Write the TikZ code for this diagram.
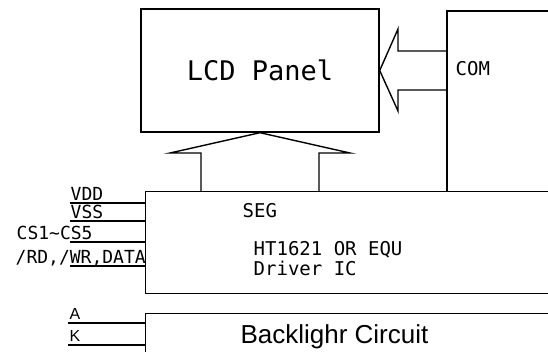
\documentclass[tikz,border=0pt]{standalone}
\usepackage{fontspec}
\usepackage{tikz}
\usetikzlibrary{positioning,calc}
\newfontfamily\cadfont{DejaVu Sans Mono}
\newfontfamily\arialfont{Liberation Sans}

\begin{document}
\begin{tikzpicture}[x=1pt, y=-1pt, line width=1.4pt,
    block/.style={draw, inner sep=0pt},
    pin/.style={font=\cadfont\fontsize{18}{18}\selectfont, inner sep=0pt, anchor=base west},
    chip/.style={font=\cadfont\fontsize{19}{19}\selectfont, inner sep=0pt, anchor=base west},
    bl/.style={font=\arialfont\fontsize{16}{16}\selectfont, inner sep=0pt, anchor=base west}]
    \useasboundingbox (0,0) rectangle (548,351);
    \clip (0,0) rectangle (548,351);
    % blocks
    \node[block, minimum width=238pt, minimum height=123pt,
      font=\cadfont\fontsize{27}{27}\selectfont] (lcd) at (260,70.5) {LCD Panel};
    \node[block, anchor=north west, minimum width=430pt, minimum height=102pt] (drv) at (145,191) {};
    \node[block, anchor=north west, minimum width=430pt, minimum height=60pt] (blc) at (145,313) {};
    \node[font=\arialfont\fontsize{26}{26}\selectfont, inner sep=0pt, anchor=base] (bltext) at (334.5,343) {Backlighr Circuit};
    % COM bus
    \coordinate (comtop) at (447,11);
    \draw (560,11) -- (comtop) -- (comtop |- drv.north);
    \draw (comtop |- 0,51) -- (398,51) -- (398,29) -- (lcd.east) -- (398,111) -- (398,90) -- (comtop |- 0,90);
    \node[chip] (com) at (455,75) {COM};
    % SEG bus
    \draw (201,191) -- (201,153) -- (170,153) -- (lcd.south) -- (350,153) -- (319,153) -- (319,191);
    \node[chip] (seg) at (242,217) {SEG};
    \node[chip] (ic1) at (253,255) {HT1621 OR EQU};
    \node[chip] (ic2) at (253,275) {Driver IC};
    % driver pins
    \coordinate (vdd) at (70,203);
    \coordinate (vss) at (70,221);
    \coordinate (cs) at (70,242);
    \coordinate (bus) at (70,266);
    \foreach \p in {vdd,vss,cs,bus}
      \draw (\p) -- (\p -| drv.west);
    \node[pin] (vddl) at (70,200) {VDD};
    \node[pin] (vssl) at (70,218) {VSS};
    \node[pin] (csl) at (16,239) {CS1\textasciitilde CS5};
    \node[pin] (busl) at (15,263) {/RD,/WR,DATA};
    % backlight pins
    \coordinate (pa) at (68,323);
    \coordinate (pk) at (68,345);
    \draw (pa) -- (pa -| blc.west);
    \draw (pk) -- (pk -| blc.west);
    \node[bl] (al) at (69,319.5) {A};
    \node[bl] (kl) at (69,341.5) {K};
  \end{tikzpicture}
\end{document}
